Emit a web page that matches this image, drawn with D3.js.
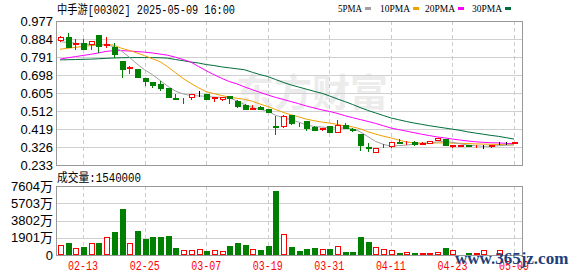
<!DOCTYPE html>
<html>
<head>
<meta charset="utf-8">
<script src="https://cdn.jsdelivr.net/npm/d3@7/dist/d3.min.js"></script>
<style>
body{margin:0;background:#fff;}
svg{display:block;}
</style>
</head>
<body>
<div id="chart"></div>
<script>

var opens =[0.880,0.896,0.858,0.862,0.857,0.905,0.855,0.845,0.771,0.736,
            0.730,0.682,0.663,0.653,0.630,0.580,0.577,0.584,0.603,0.601,
            0.577,0.574,0.587,0.562,0.544,0.522,0.532,0.522,0.436,0.433,
            0.493,0.438,0.462,0.429,0.419,0.436,0.405,0.441,0.418,0.393,
            0.325,0.301,0.344,0.333,0.354,0.345,0.351,0.343,0.347,0.362,
            0.369,0.330,0.330,0.338,0.329,0.332,0.331,0.348,0.349,0.347];
var highs =[0.900,0.913,0.883,0.883,0.872,0.905,0.896,0.862,0.771,0.747,
            0.730,0.682,0.663,0.668,0.630,0.601,0.580,0.598,0.615,0.601,
            0.584,0.586,0.587,0.567,0.550,0.544,0.539,0.522,0.484,0.493,
            0.493,0.450,0.462,0.433,0.426,0.436,0.467,0.450,0.424,0.393,
            0.347,0.322,0.344,0.354,0.365,0.356,0.359,0.350,0.359,0.374,
            0.369,0.338,0.336,0.338,0.335,0.336,0.338,0.354,0.353,0.351];
var lows  =[0.875,0.845,0.834,0.834,0.834,0.819,0.845,0.793,0.687,0.707,
            0.687,0.644,0.634,0.622,0.582,0.572,0.553,0.574,0.591,0.574,
            0.566,0.570,0.553,0.532,0.522,0.522,0.522,0.505,0.393,0.430,
            0.445,0.433,0.416,0.416,0.416,0.402,0.402,0.422,0.410,0.312,
            0.304,0.301,0.325,0.325,0.345,0.342,0.335,0.340,0.347,0.362,
            0.334,0.325,0.330,0.330,0.325,0.319,0.324,0.342,0.343,0.345];
var closes=[0.895,0.845,0.861,0.834,0.872,0.848,0.857,0.805,0.730,0.739,
            0.687,0.665,0.644,0.632,0.582,0.572,0.580,0.598,0.603,0.574,
            0.584,0.586,0.577,0.539,0.522,0.527,0.522,0.505,0.431,0.486,
            0.450,0.441,0.424,0.416,0.424,0.402,0.440,0.422,0.414,0.338,
            0.320,0.322,0.340,0.354,0.345,0.349,0.344,0.347,0.359,0.374,
            0.334,0.335,0.336,0.330,0.331,0.332,0.334,0.348,0.349,0.350];

var ma5 =[0.870,0.866,0.862,0.858,0.855,0.853,0.853,0.845,0.822,0.790,
          0.755,0.725,0.700,0.670,0.640,0.615,0.600,0.592,0.590,0.588,
          0.584,0.582,0.579,0.565,0.545,0.530,0.520,0.512,0.490,0.478,
          0.467,0.455,0.440,0.432,0.429,0.426,0.424,0.424,0.420,0.405,
          0.380,0.355,0.340,0.330,0.333,0.336,0.340,0.344,0.348,0.352,
          0.355,0.350,0.343,0.336,0.332,0.330,0.330,0.333,0.335,0.337];
var ma10=[0.831,0.836,0.841,0.845,0.850,0.853,0.857,0.852,0.836,0.825,
          0.812,0.798,0.782,0.767,0.740,0.710,0.680,0.655,0.632,0.612,
          0.602,0.592,0.584,0.578,0.572,0.562,0.548,0.535,0.520,0.505,
          0.493,0.482,0.470,0.462,0.455,0.450,0.443,0.436,0.430,0.420,
          0.405,0.393,0.382,0.373,0.362,0.352,0.347,0.346,0.346,0.347,
          0.347,0.346,0.345,0.344,0.342,0.341,0.340,0.339,0.338,0.337];
var ma20=[0.780,0.787,0.793,0.799,0.805,0.812,0.820,0.824,0.824,0.822,
          0.819,0.816,0.812,0.806,0.800,0.790,0.778,0.765,0.742,0.720,
          0.700,0.681,0.664,0.652,0.636,0.622,0.608,0.595,0.582,0.572,
          0.561,0.550,0.538,0.528,0.518,0.510,0.500,0.488,0.478,0.468,
          0.458,0.448,0.436,0.424,0.416,0.408,0.400,0.392,0.385,0.378,
          0.373,0.367,0.362,0.357,0.353,0.350,0.348,0.347,0.345,0.343];
var ma30=[0.776,0.777,0.778,0.779,0.780,0.782,0.784,0.786,0.787,0.788,
          0.788,0.788,0.788,0.787,0.785,0.778,0.772,0.765,0.760,0.752,
          0.747,0.740,0.735,0.730,0.725,0.712,0.700,0.690,0.675,0.660,
          0.647,0.636,0.625,0.614,0.604,0.590,0.575,0.561,0.546,0.530,
          0.515,0.502,0.489,0.476,0.467,0.458,0.450,0.443,0.436,0.430,
          0.424,0.418,0.412,0.404,0.398,0.392,0.386,0.381,0.374,0.367];

// volume, in 万
var volumes=[1065,1322,735,880,1285,1322,1947,2535,5070,1285,
             2645,1763,1984,1984,2094,771,551,551,698,441,
             514,404,992,1322,1102,624,551,992,7053,2277,
             881,441,661,771,624,661,955,331,331,1984,
             1469,845,700,514,220,294,220,220,220,294,
             771,514,60,220,220,514,100,514,100,154];

var priceTicks=[0.977,0.884,0.791,0.698,0.605,0.512,0.419,0.326,0.233];
var volTicks=[0,1901,3802,5703,7604];
var dateLabels=["02-13","02-25","03-07","03-19","03-31","04-11","04-23","05-09"];
var dateIndex=[3,11,19,27,35,43,51,59];

var maNames=["5PMA","10PMA","20PMA","30PMA"];
var maColors=["#a0a0a0","#f0a000","#ff00ff","#006e3c"];

var svgWidth=578, svgHeight=276;
var left=56, right=522;
var pTop=21, pBottom=165;
var vTop=186, vBottom=255;
var red="#ff0000", green="#008000";

var svg=d3.select("#chart")
  .append("svg")
  .attr("width", svgWidth)
  .attr("height", svgHeight)
  .style("font-family", "'Liberation Sans', Arial, sans-serif");

var x=d3.scaleLinear().domain([0,59]).range([60,514]);
var y=d3.scaleLinear().domain([0.233,0.977]).range([pBottom,pTop]);
var yv=d3.scaleLinear().domain([0,7604]).range([vBottom,vTop]);

function px(v){ return Math.round(v)+0.5; }

// watermark behind price panel
svg.append("text")
  .attr("x", 236).attr("y", 106)
  .attr("font-family", "'Noto Sans CJK SC', sans-serif")
  .attr("font-size", 38)
  .attr("font-weight", "bold")
  .attr("fill", "#ececec")
  .text("东方财富");

// grids
[[pTop,pBottom,priceTicks.map(function(t){return y(t);})],
 [vTop,vBottom,volTicks.map(function(t){return yv(t);})]].forEach(function(p){
  svg.append("g").selectAll("line")
    .data(p[2]).enter().append("line")
    .attr("x1", left).attr("x2", right)
    .attr("y1", d=>px(d)).attr("y2", d=>px(d))
    .attr("stroke", "#d0d0d0");
  svg.append("g").selectAll("line")
    .data(dateIndex).enter().append("line")
    .attr("x1", d=>px(x(d))).attr("x2", d=>px(x(d)))
    .attr("y1", p[0]).attr("y2", p[1])
    .attr("stroke", "#cccccc")
    .attr("stroke-dasharray", "4,3");
  svg.append("rect")
    .attr("x", left+0.5).attr("y", p[0]+0.5)
    .attr("width", right-left).attr("height", p[1]-p[0])
    .attr("fill", "none")
    .attr("stroke", "#999");
});

// moving averages
var mas=[ma5,ma10,ma20,ma30];
var line=d3.line().x((d,i)=>x(i)).y(d=>y(d));
mas.slice().reverse().forEach(function(m,k){
  svg.append("path")
    .datum(m)
    .attr("d", line)
    .attr("fill", "none")
    .attr("stroke", maColors[3-k])
    .attr("stroke-width", 1);
});

// candles
var idx=d3.range(opens.length);
var candles=svg.append("g").selectAll("g")
  .data(idx).enter().append("g");

function cColor(i){
  if(closes[i]>opens[i]) return red;
  if(closes[i]<opens[i]) return green;
  return "#000";
}

candles.append("line")
  .attr("x1", i=>px(x(i))).attr("x2", i=>px(x(i)))
  .attr("y1", i=>Math.round(y(highs[i]))).attr("y2", i=>Math.round(y(lows[i]))+1)
  .attr("stroke", cColor);

candles.append("rect")
  .attr("x", i=>Math.round(x(i))-2+0.5)
  .attr("y", i=>Math.round(y(Math.max(opens[i],closes[i])))+0.5)
  .attr("width", 5)
  .attr("height", i=>Math.max(0,Math.round(y(Math.min(opens[i],closes[i])))-Math.round(y(Math.max(opens[i],closes[i])))))
  .attr("fill", i=>closes[i]>opens[i]?"#fff":cColor(i))
  .attr("stroke", cColor)
  .attr("shape-rendering", "crispEdges");

// volume bars, coloured by change from previous close
function vUp(i){ return i==0 ? closes[0]>=opens[0] : closes[i]>=closes[i-1]; }

svg.append("g").selectAll("rect")
  .data(idx).enter().append("rect")
  .attr("x", i=>Math.round(x(i))-2+0.5)
  .attr("y", i=>Math.round(yv(volumes[i]))+0.5)
  .attr("width", 5)
  .attr("height", i=>Math.max(0,vBottom-Math.round(yv(volumes[i]))-1))
  .attr("fill", i=>vUp(i)?"#fff":green)
  .attr("stroke", i=>vUp(i)?red:green)
  .attr("shape-rendering", "crispEdges");

// axis labels
svg.append("g").selectAll("text")
  .data(priceTicks).enter().append("text")
  .attr("x", 53).attr("y", d=>y(d)+4.5)
  .attr("text-anchor", "end")
  .attr("font-size", 13)
  .attr("fill", "#000")
  .text(d=>d3.format(".3f")(d));

svg.append("g").selectAll("text")
  .data(volTicks).enter().append("text")
  .attr("x", 53).attr("y", d=>yv(d)+4.5)
  .attr("text-anchor", "end")
  .attr("font-size", 13)
  .attr("font-family", "'Liberation Sans', 'Noto Sans CJK SC', sans-serif")
  .attr("fill", "#000")
  .text(d=>d==0?"0":d+"万");

svg.append("g").selectAll("text")
  .data(dateIndex).enter().append("text")
  .attr("x", d=>x(d)).attr("y", 270)
  .attr("text-anchor", "middle")
  .attr("font-size", 12)
  .attr("font-family", "'Liberation Mono', monospace")
  .attr("textLength", 30)
  .attr("lengthAdjust", "spacingAndGlyphs")
  .attr("fill", red)
  .text((d,i)=>dateLabels[i]);

// titles
var mono="'Liberation Mono', 'Noto Sans CJK SC', monospace";
svg.append("text")
  .attr("x", 57).attr("y", 14)
  .attr("font-size", 12).attr("font-family", mono)
  .attr("textLength", 178).attr("lengthAdjust", "spacingAndGlyphs")
  .text("中手游[00302] 2025-05-09 16:00");

svg.append("text")
  .attr("x", 57).attr("y", 182)
  .attr("font-size", 12).attr("font-family", mono)
  .attr("textLength", 84).attr("lengthAdjust", "spacingAndGlyphs")
  .text("成交量:" + volumes[volumes.length-1]*10000);

// legend
var legX=[338,380,425,472];
maNames.forEach(function(n,k){
  svg.append("text")
    .attr("x", legX[k]).attr("y", 12)
    .attr("font-size", 11)
    .attr("font-family", "'Liberation Serif', serif")
    .attr("textLength", n.length*6).attr("lengthAdjust", "spacingAndGlyphs")
    .text(n);
  svg.append("rect")
    .attr("x", legX[k]+n.length*6+3).attr("y", 7)
    .attr("width", 6).attr("height", 3)
    .attr("fill", maColors[k]);
});

// site watermark
svg.append("text")
  .attr("x", 455).attr("y", 264)
  .attr("font-family", "'Liberation Serif', serif")
  .attr("font-size", 17)
  .attr("font-weight", "bold")
  .attr("fill", "#1d3f7a")
  .text("www.365jz.com");

</script>
</body>
</html>
